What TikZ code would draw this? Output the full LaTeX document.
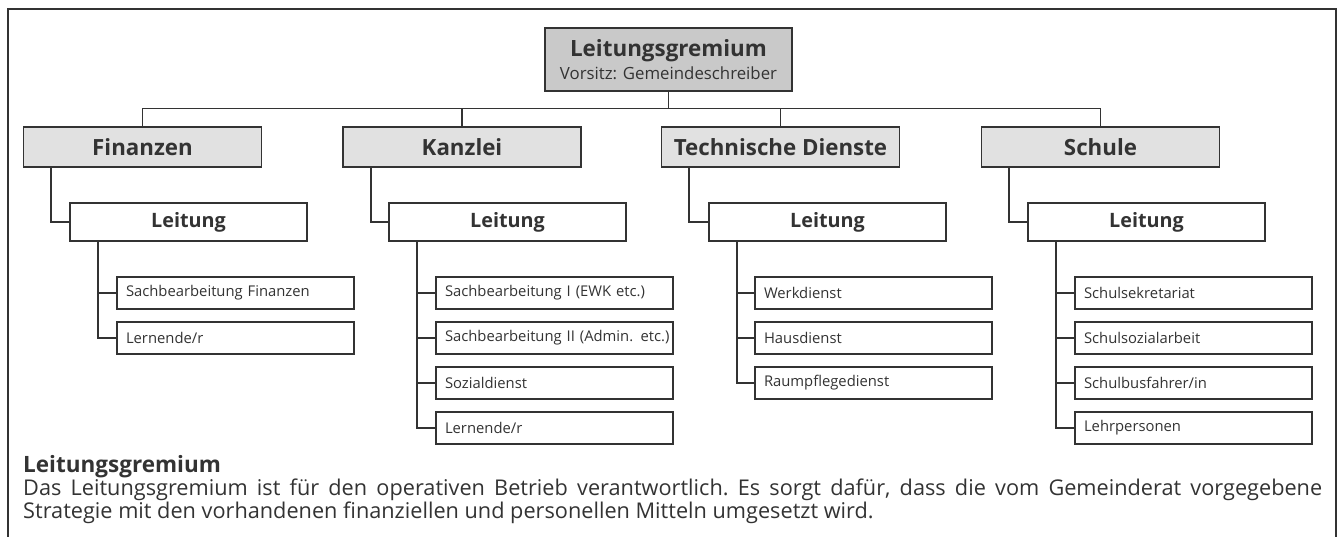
\documentclass[tikz,border=0pt]{standalone}
\usepackage{fontspec}
\setmainfont{Open Sans}
\usepackage{xcolor}
\definecolor{ink}{HTML}{333333}
\definecolor{topgray}{HTML}{C9C9C9}
\definecolor{deptgray}{HTML}{E1E1E1}
\tikzset{box/.style={draw=ink,line width=1.8pt,inner sep=0pt,text=ink},
 topbox/.style={box,fill=topgray,minimum width=247pt,minimum height=63pt,align=center},
 deptbox/.style={box,fill=deptgray,minimum width=238pt,minimum height=40pt,
   font=\fontsize{22.3}{24}\selectfont\bfseries},
 leadbox/.style={box,fill=white,minimum width=237pt,minimum height=38pt,
   font=\fontsize{19.8}{22}\selectfont\bfseries},
 itembox/.style={box,fill=white,minimum width=237pt,minimum height=32pt,
   text width=219pt,inner xsep=9pt,align=left,font=\fontsize{14.8}{18}\selectfont},
 link/.style={draw=ink,line width=1.8pt},
 }

\begin{document}
\begin{tikzpicture}[x=1pt,y=-1pt]
        \useasboundingbox (0,0) rectangle (1340,537);
        \draw [draw=ink,line width=1.3pt] (8,537) -- (8,9) -- (1336,9) -- (1336,537);
        % top
        \node [topbox] (gremium) at (668.5,59.5)
          {{\fontsize{22.4}{24}\selectfont\bfseries Leitungsgremium}\\[4pt]
           {\fontsize{16.8}{19}\selectfont Vorsitz: Gemeindeschreiber}};
        \coordinate (bus) at (668.5,108.5);
        % departments
        \node [deptbox] (fin) at (142.5,147) {Finanzen};
        \node [deptbox] (kan) at (462,147) {Kanzlei};
        \node [deptbox] (tec) at (780.5,147) {Technische Dienste};
        \node [deptbox] (sch) at (1100.5,147) {Schule};
        \draw [link] (gremium.south) -- (bus);
        \foreach \d in {fin,kan,tec,sch}
          \draw [link] (\d.north) |- (bus);
        % leads
        \node [leadbox] (finL) at (188.5,222) {Leitung};
        \node [leadbox] (kanL) at (507.5,222) {Leitung};
        \node [leadbox] (tecL) at (827.5,222) {Leitung};
        \node [leadbox] (schL) at (1146.5,222) {Leitung};
        \foreach \d in {fin,kan,tec,sch}
          \draw [link] ([xshift=28.5pt]\d.south west) |- (\d L.west);
        % staff
        \foreach \t [count=\i] in {Sachbearbeitung Finanzen,Lernende/r} {
          \node [itembox] (fin\i) at (235.5,248+45*\i) {\mbox{\t}};
          \draw [link] ([xshift=29pt]finL.south west) |- (fin\i.west);
        }
        \foreach \t [count=\i] in {Sachbearbeitung I (EWK etc.),
            Sachbearbeitung II (Admin. etc.),Sozialdienst,Lernende/r} {
          \node [itembox] (kan\i) at (554.5,248+45*\i) {\mbox{\t}};
          \draw [link] ([xshift=29pt]kanL.south west) |- (kan\i.west);
        }
        \foreach \t [count=\i] in {Werkdienst,Hausdienst,Raumpflegedienst} {
          \node [itembox] (tec\i) at (873.5,248+45*\i) {\mbox{\t}};
          \draw [link] ([xshift=29pt]tecL.south west) |- (tec\i.west);
        }
        \foreach \t [count=\i] in {Schulsekretariat,Schulsozialarbeit,
            Schulbusfahrer/in,Lehrpersonen} {
          \node [itembox] (sch\i) at (1193.5,248+45*\i) {\mbox{\t}};
          \draw [link] ([xshift=29pt]schL.south west) |- (sch\i.west);
        }
        % note
        \node [anchor=north west,inner sep=0pt,text width=1299pt,align=justify,
          text=ink] (note) at (23,455)
          {\frenchspacing
           {\fontsize{22.5}{19}\selectfont\bfseries Leitungsgremium\par}
           \fontsize{21.7}{19}\selectfont
           Das Leitungsgremium ist für den operativen Betrieb verantwortlich. Es sorgt dafür, dass die vom Gemeinderat vorgegebene\linebreak
           Strategie mit den vorhandenen finanziellen und personellen Mitteln umgesetzt wird.\par};
    \end{tikzpicture}
\end{document}
